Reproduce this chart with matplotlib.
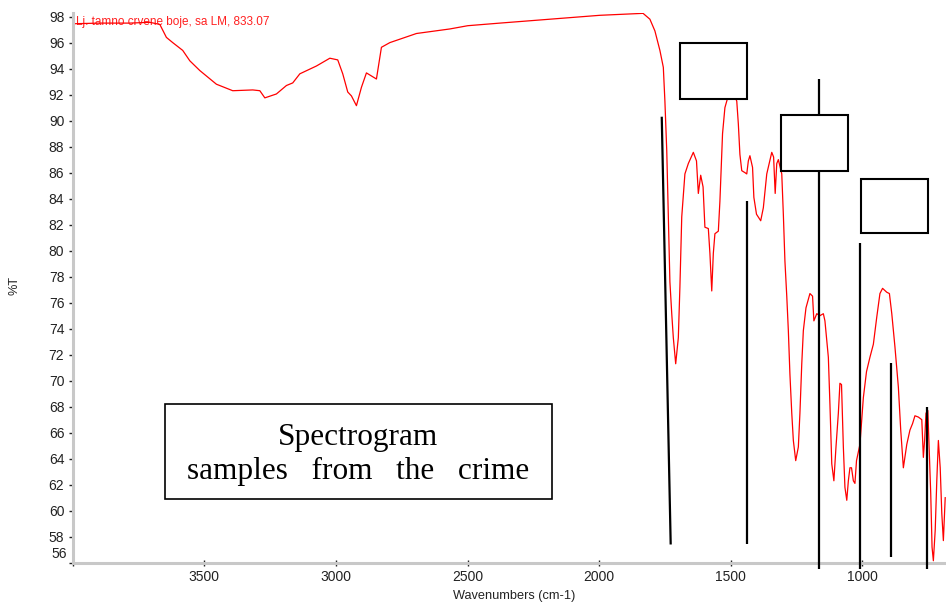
import matplotlib
matplotlib.use("Agg")
import matplotlib.pyplot as plt
from matplotlib.patches import Rectangle
from matplotlib.ticker import MultipleLocator, FuncFormatter
from matplotlib.transforms import offset_copy

# FTIR spectrum: wavenumber (cm-1) and transmittance (%T)
wavenumber = [3999, 3897, 3783, 3707, 3669, 3644, 3620, 3582, 3555, 3517,
              3454, 3392, 3316, 3289, 3270, 3226, 3188, 3164, 3137, 3074,
              3023, 2993, 2974, 2955, 2941, 2922, 2903, 2884, 2846, 2827,
              2795, 2694, 2567, 2499, 2377, 2187, 1997, 1883, 1833, 1807,
              1788, 1769, 1756, 1750, 1743, 1737, 1731, 1724, 1718, 1709,
              1699, 1693, 1686, 1674, 1661, 1642, 1630, 1623, 1614, 1605,
              1598, 1585, 1579, 1572, 1566, 1560, 1547, 1541, 1531, 1522,
              1515, 1503, 1491, 1477, 1471, 1465, 1458, 1446, 1439, 1433,
              1427, 1417, 1412, 1402, 1386, 1376, 1363, 1344, 1337, 1331,
              1325, 1319, 1306, 1300, 1294, 1287, 1281, 1275, 1268, 1262,
              1253, 1243, 1237, 1230, 1224, 1214, 1199, 1189, 1184, 1173,
              1161, 1148, 1142, 1129, 1123, 1116, 1108, 1100, 1091, 1085,
              1079, 1072, 1066, 1059, 1053, 1047, 1041, 1034, 1028, 1022,
              1009, 996, 984, 971, 958, 945, 933, 923, 907, 897,
              888, 876, 863, 854, 844, 831, 819, 809, 800, 787,
              774, 768, 763, 758, 751, 745, 740, 735, 730, 723,
              717, 711, 704, 698, 692, 685]
transmittance = [97.45, 97.5, 97.5, 97.56, 97.4, 96.4, 96.0, 95.4, 94.6, 93.85,
                 92.8, 92.3, 92.36, 92.3, 91.75, 92.05, 92.7, 92.9, 93.6, 94.2,
                 94.8, 94.67, 93.6, 92.2, 91.9, 91.15, 92.56, 93.67, 93.2, 95.64,
                 96.0, 96.7, 97.05, 97.3, 97.5, 97.8, 98.1, 98.2, 98.25, 97.8,
                 96.9, 95.4, 94.1, 91.5, 87.7, 82.6, 77.6, 75.15, 73.3, 71.3,
                 73.3, 77.2, 82.6, 85.9, 86.7, 87.56, 86.9, 84.4, 85.8, 84.9,
                 81.8, 81.7, 79.8, 76.9, 79.8, 81.3, 81.5, 83.8, 89.0, 91.0,
                 91.5, 92.4, 92.2, 91.5, 89.75, 87.4, 86.15, 86.0, 85.9, 86.9,
                 87.3, 86.4, 84.1, 82.8, 82.3, 83.3, 85.9, 87.56, 87.2, 84.4,
                 86.7, 87.0, 85.9, 82.8, 79.2, 76.5, 73.85, 70.5, 67.5, 65.4,
                 63.85, 64.9, 67.5, 71.3, 73.85, 75.6, 76.7, 76.5, 74.6, 75.15,
                 75.0, 75.15, 74.6, 71.8, 68.2, 63.6, 62.3, 64.9, 67.5, 69.8,
                 69.7, 64.9, 61.8, 60.8, 62.3, 63.3, 63.3, 62.3, 62.1, 63.85,
                 65.1, 68.7, 70.7, 71.8, 72.8, 74.9, 76.7, 77.1, 76.8, 76.7,
                 75.15, 72.6, 69.5, 66.2, 63.3, 65.1, 66.2, 66.7, 67.3, 67.2,
                 67.0, 64.1, 65.5, 67.5, 67.7, 64.1, 61.3, 57.2, 56.15, 58.5,
                 62.3, 65.4, 63.3, 59.8, 57.7, 61.0]

# Annotation sticks: (wn_top, T_top, wn_bottom, T_bottom)
stick_top_wn = [1762, 1439, 1163, 1009, 891, 753]
stick_top_t = [90.3, 83.85, 93.2, 80.6, 71.33, 68.0]
stick_bot_wn = [1728, 1439, 1163, 1009, 891, 753]
stick_bot_t = [57.4, 57.4, 55.5, 55.5, 56.4, 55.5]

# Empty label boxes: (wn_left, wn_right, T_bottom, T_top)
box_left_wn = [1693, 1310, 1006]
box_right_wn = [1437, 1054, 751]
box_bottom_t = [91.7, 86.15, 81.36]
box_top_t = [95.95, 90.4, 85.54]

sample_label = "Lj. tamno crvene boje, sa LM, 833.07"
title_lines = ["Spectrogram", "samples   from   the   crime"]

plt.rcParams["font.family"] = ["Liberation Sans", "DejaVu Sans"]

W, H = 946, 602
fig = plt.figure(figsize=(W / 100, H / 100), dpi=100)
ax_l, ax_r, ax_t, ax_b = 72.7, 946.0, 12.7, 562.7
ax = fig.add_axes([ax_l / W, 1 - ax_b / H, (ax_r - ax_l) / W, (ax_b - ax_t) / H])

ax.set_xlim(4000, 682)
ax.set_ylim(56, 98.3)

ax.plot(wavenumber, transmittance, color="#ff0000", lw=0.9, zorder=2)

for x0, y0, x1, y1 in zip(stick_top_wn, stick_top_t, stick_bot_wn, stick_bot_t):
    ax.plot([x0, x1], [y0, y1], color="black", lw=1.6, zorder=3,
            clip_on=False, solid_capstyle="butt")

for xl, xr, yb, yt in zip(box_left_wn, box_right_wn, box_bottom_t, box_top_t):
    ax.add_patch(Rectangle((xl, yb), xr - xl, yt - yb, facecolor="white",
                           edgecolor="black", lw=1.5, zorder=4))

# Caption box
bx0, bx1, by0, by1 = 165, 551.7, 404, 499
def fx(px):
    return (px - ax_l) / (ax_r - ax_l)
def fy(py):
    return (ax_b - py) / (ax_b - ax_t)
ax.add_patch(Rectangle((fx(bx0), fy(by1)), fx(bx1) - fx(bx0), fy(by0) - fy(by1),
                       transform=ax.transAxes, facecolor="white",
                       edgecolor="black", lw=1.2, zorder=5))
cx = fx((bx0 + bx1) / 2)
ax.text(cx, fy(438), title_lines[0], transform=ax.transAxes, ha="center",
        va="center", fontsize=22.5, family="Liberation Serif", zorder=6)
ax.text(cx, fy(471), title_lines[1], transform=ax.transAxes, ha="center",
        va="center", fontsize=22.5, family="Liberation Serif", zorder=6)

ax.text(fx(76), fy(22), sample_label, transform=ax.transAxes, ha="left",
        va="center", fontsize=8.5, color="#ff2020", zorder=1)

# Axes styling
for side in ("top", "right"):
    ax.spines[side].set_visible(False)
for side in ("left", "bottom"):
    ax.spines[side].set_color("#c8c8c8")
    ax.spines[side].set_linewidth(2.2)

ax.xaxis.set_major_locator(MultipleLocator(500))
ax.xaxis.set_minor_locator(MultipleLocator(100))
ax.yaxis.set_major_locator(MultipleLocator(2))
ax.yaxis.set_minor_locator(MultipleLocator(0.4))
ax.yaxis.set_major_formatter(FuncFormatter(lambda v, p: "" if abs(v - 56) < 0.01 else f"{v:.0f}"))
ax.xaxis.set_major_formatter(FuncFormatter(lambda v, p: "" if v > 3900 else f"{v:.0f}"))

ax.tick_params(axis="both", which="major", labelsize=10, labelcolor="#222222",
               color="#222222", width=1.0)
ax.tick_params(axis="y", which="major", direction="out", length=3, pad=3)
ax.tick_params(axis="x", which="major", direction="inout", length=4, pad=3)
ax.tick_params(axis="both", which="minor", direction="inout", length=1.5,
               width=1.0, color="#222222")

# Lowest y label sits just above the bottom spine
lbl_tr = offset_copy(ax.get_yaxis_transform(), fig=fig, x=-6, y=9, units="dots")
ax.text(0, 56, "56", transform=lbl_tr, ha="right", va="center", fontsize=10,
        color="#222222")

fig.text(514 / W, 1 - 596 / H, "Wavenumbers (cm-1)", ha="center", va="center",
         fontsize=9.2, color="#222222")
fig.text(15 / W, 1 - 285 / H, "%T", ha="center", va="center", rotation=90,
         fontsize=9.2, color="#222222")

fig.savefig("out.png", dpi=100)
